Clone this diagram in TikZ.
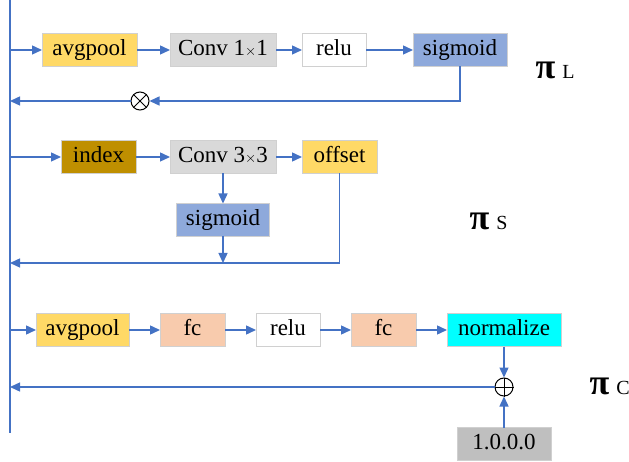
\documentclass[tikz,border=0pt]{standalone}
\usepackage{fontspec}
\setmainfont{Liberation Serif}
\usetikzlibrary{arrows.meta, positioning}
\definecolor{cLine}{RGB}{68,114,196}
\definecolor{cEdge}{RGB}{208,208,208}
\definecolor{cGold}{RGB}{255,217,102}
\definecolor{cDarkGold}{RGB}{191,143,0}
\definecolor{cConv}{RGB}{217,217,217}
\definecolor{cSig}{RGB}{142,169,219}
\definecolor{cFc}{RGB}{248,203,173}
\definecolor{cNorm}{RGB}{0,255,255}
\definecolor{cConst}{RGB}{191,191,191}
\tikzset{
  basebox/.style={rectangle, draw=cEdge, line width=0.8pt, inner sep=0pt,
                  outer sep=0pt, minimum height=33pt, text height=16pt,
                  text depth=5pt, font=\fontsize{23}{26}\selectfont},
  poolnode/.style={basebox, fill=cGold},
  convnode/.style={basebox, fill=cConv},
  relunode/.style={basebox, fill=white},
  signode/.style={basebox, fill=cSig},
  indexnode/.style={basebox, fill=cDarkGold},
  fcnode/.style={basebox, fill=cFc},
  normnode/.style={basebox, fill=cNorm},
  constnode/.style={basebox, fill=cConst},
  opnode/.style={circle, draw=black, line width=1pt, minimum size=18pt,
                 inner sep=0pt, fill=white},
  flowline/.style={line width=1.4pt, color=cLine},
  arrow/.style={flowline, -{Triangle[length=10pt, width=9pt]}},
  pilabel/.style={font=\fontsize{36}{38}\selectfont\bfseries}
}
\newcommand{\tms}{{\fontsize{14}{14}\selectfont$\times$}}
\newcommand{\pisub}[1]{\hspace{7pt}{\fontsize{20}{22}\selectfont\mdseries #1}}

\begin{document}
\begin{tikzpicture}[x=1pt, y=-1pt]
  \useasboundingbox (0,0) rectangle (629,462);
  \coordinate (trunkT) at (10,0);
  \coordinate (trunkB) at (10,433);
  \draw[flowline] (trunkT) -- (trunkB);

  % pi_L branch
  \node[poolnode, minimum width=95pt] (avgL) at (89.5,50) {avgpool};
  \node[convnode, minimum width=106pt, right=33pt of avgL] (convL) {Conv 1\tms1};
  \node[relunode, minimum width=64pt, right=26pt of convL] (reluL) {relu};
  \node[signode, minimum width=94pt, right=47pt of reluL] (sigL) {sigmoid};
  \node[opnode] (mulL) at (140,101) {};
  \draw[line width=1pt] (mulL.north east) -- (mulL.south west)
                        (mulL.north west) -- (mulL.south east);
  \node[pilabel, anchor=base west] (piL) at (532,79) {π\pisub{L}};

  \draw[arrow] (avgL.west -| trunkT) -- (avgL.west);
  \draw[arrow] (avgL.east) -- (convL.west);
  \draw[arrow] (convL.east) -- (reluL.west);
  \draw[arrow] (reluL.east) -- (sigL.west);
  \draw[arrow] (sigL.south) |- (mulL.east);
  \draw[arrow] (mulL.west) -- (mulL.west -| trunkT);

  % pi_S branch
  \node[indexnode, minimum width=75pt] (idxS) at (98.5,157) {index};
  \node[convnode, minimum width=106pt, right=34pt of idxS] (convS) {Conv 3\tms3};
  \node[poolnode, minimum width=75pt, right=26pt of convS] (offS) {offset};
  \node[signode, minimum width=93pt, below=30pt of convS] (sigS) {sigmoid};
  \coordinate (retS) at (10,263);
  \node[pilabel, anchor=base west] (piS) at (466,230) {π\pisub{S}};

  \draw[arrow] (idxS.west -| trunkT) -- (idxS.west);
  \draw[arrow] (idxS.east) -- (convS.west);
  \draw[arrow] (convS.east) -- (offS.west);
  \draw[arrow] (convS.south) -- (sigS.north);
  \draw[arrow] (offS.south) |- (retS);
  \draw[arrow] (sigS.south) -- (sigS.south |- retS);

  % pi_C branch
  \node[poolnode, minimum width=93pt] (avgC) at (82.5,330) {avgpool};
  \node[fcnode, minimum width=65pt, right=31pt of avgC] (fcC) {fc};
  \node[relunode, minimum width=64pt, right=31pt of fcC] (reluC) {relu};
  \node[fcnode, minimum width=65pt, right=31pt of reluC] (fcD) {fc};
  \node[normnode, minimum width=114pt, right=31pt of fcD] (normC) {normalize};
  \coordinate (retC) at (10,387);
  \node[opnode] (addC) at (normC |- retC) {};
  \draw[line width=1pt] (addC.north) -- (addC.south) (addC.west) -- (addC.east);
  \node[constnode, minimum width=94pt, below=31pt of addC] (oneC) {1.0.0.0};
  \node[pilabel, anchor=base west] (piC) at (586,394) {π\pisub{C}};

  \draw[arrow] (avgC.west -| trunkT) -- (avgC.west);
  \draw[arrow] (avgC.east) -- (fcC.west);
  \draw[arrow] (fcC.east) -- (reluC.west);
  \draw[arrow] (reluC.east) -- (fcD.west);
  \draw[arrow] (fcD.east) -- (normC.west);
  \draw[arrow] (normC.south) -- (addC.north);
  \draw[arrow] (oneC.north) -- (addC.south);
  \draw[arrow] (addC.west) -- (retC);
\end{tikzpicture}
\end{document}
